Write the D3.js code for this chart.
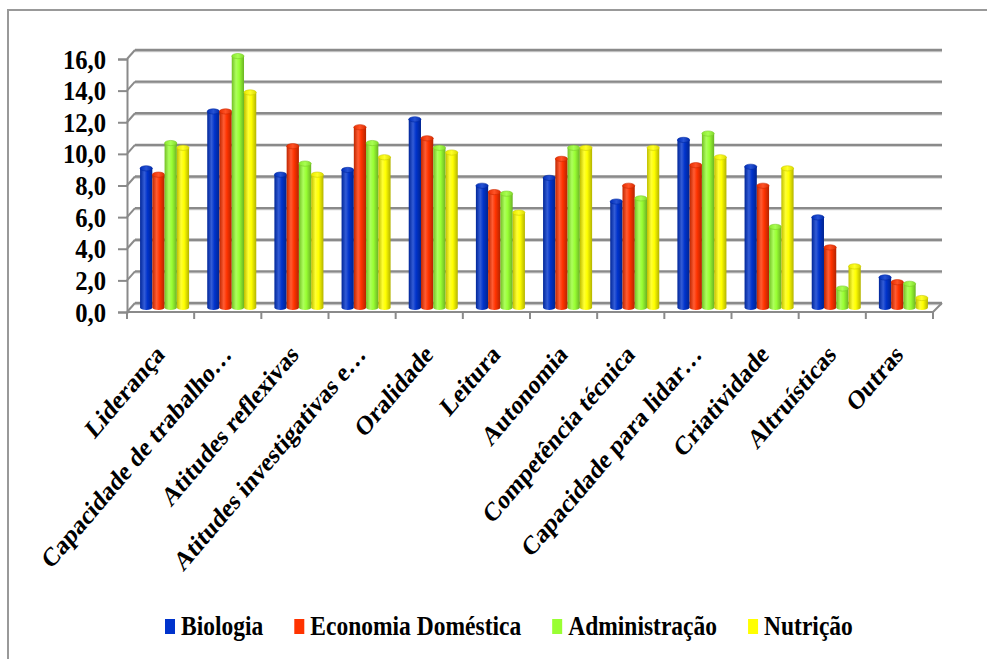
<!DOCTYPE html>
<html><head><meta charset="utf-8">
<script src="https://cdn.jsdelivr.net/npm/d3@7"></script>
<style>html,body{margin:0;padding:0;background:#fff;} svg{display:block;}</style>
</head><body>
<svg id="chart" width="987" height="659"></svg>
<script>
const categories = ["Liderança","Capacidade de trabalho…","Atitudes reflexivas","Atitudes investigativas e…","Oralidade","Leitura","Autonomia","Competência técnica","Capacidade para lidar…","Criatividade","Altruísticas","Outras"];
const seriesNames = ["Biologia","Economia Doméstica","Administração","Nutrição"];
const biologia      = [8.8,12.4,8.4,8.7,11.9,7.7,8.2,6.7,10.6,8.9,5.7,1.9];
const economia      = [8.4,12.4,10.2,11.4,10.7,7.3,9.4,7.7,9.0,7.7,3.8,1.6];
const administracao = [10.4,15.9,9.1,10.4,10.1,7.2,10.1,6.9,11.0,5.1,1.2,1.5];
const nutricao      = [10.1,13.6,8.4,9.5,9.8,6.0,10.1,10.1,9.5,8.8,2.6,0.6];
const yTicks = [0,2,4,6,8,10,12,14,16];
const colors = ["#0033CC","#FF3300","#99FF33","#FFFF00"];
const seriesValues = [biologia, economia, administracao, nutricao];

const svg = d3.select("#chart");
const FONT = "'Liberation Serif', 'Times New Roman', serif";
const SX = 0.85; // horizontal squash of the original picture's text
const dx = 8, dy = -9; // 3D depth offset

// frame
svg.append("path").attr("d","M8,659 V10 H987").attr("fill","none").attr("stroke","#999").attr("stroke-width",2);

const x = d3.scaleBand().domain(categories).range([127,933]);
const y = d3.scaleLinear().domain([0,16]).range([312,59]);
const bw = x.bandwidth();
const xs = d3.scaleBand().domain(seriesNames).range([0, bw*0.73]);

// defs gradients
const defs = svg.append("defs");
function shade(c, k){ return k>0 ? d3.interpolateRgb(c,"#fff")(k) : d3.interpolateRgb(c,"#000")(-k); }
colors.forEach((c,i)=>{
  const g = defs.append("linearGradient").attr("id","g"+i).attr("x1","0").attr("x2","1").attr("y1","0").attr("y2","0");
  g.append("stop").attr("offset","0").attr("stop-color",shade(c,-0.25));
  g.append("stop").attr("offset","0.35").attr("stop-color",shade(c,0.2));
  g.append("stop").attr("offset","0.6").attr("stop-color",c);
  g.append("stop").attr("offset","1").attr("stop-color",shade(c,-0.3));
  const gc = defs.append("linearGradient").attr("id","c"+i).attr("x1","0").attr("x2","1").attr("y1","0").attr("y2","0");
  gc.append("stop").attr("offset","0").attr("stop-color",shade(c,-0.1));
  gc.append("stop").attr("offset","0.5").attr("stop-color",shade(c,0.15));
  gc.append("stop").attr("offset","1").attr("stop-color",shade(c,-0.15));
});

const gridColor = "#8a8a8a";
// back wall gridlines
const grid = svg.append("g");
yTicks.forEach(v=>{
  grid.append("line").attr("x1",127+dx).attr("x2",942).attr("y1",y(v)+dy+1.2).attr("y2",y(v)+dy+1.2).attr("stroke","#d0d0d0").attr("stroke-width",2);
  grid.append("line").attr("x1",127+dx).attr("x2",942).attr("y1",y(v)+dy).attr("y2",y(v)+dy).attr("stroke",gridColor).attr("stroke-width",2.3);
  grid.append("line").attr("x1",127).attr("x2",127+dx).attr("y1",y(v)).attr("y2",y(v)+dy).attr("stroke",gridColor).attr("stroke-width",2);
});
// floor right edge
svg.append("line").attr("x1",933).attr("x2",933+dx+1).attr("y1",y(0)).attr("y2",y(0)+dy).attr("stroke",gridColor).attr("stroke-width",2);

// y axis
const yAxis = d3.axisLeft(y).tickValues(yTicks).tickSize(9).tickPadding(0).tickFormat(()=>"");
const ya = svg.append("g").attr("transform","translate(127,0)").call(yAxis);
ya.select(".domain").attr("stroke",gridColor).attr("stroke-width",2);
ya.selectAll(".tick line").attr("stroke",gridColor).attr("stroke-width",2);
const fmt = d3.format(".1f");
yTicks.forEach(v=>{
  svg.append("text").attr("transform",`translate(106,${y(v)}) scale(0.88,1)`)
    .attr("font-family",FONT).attr("font-weight","bold")
    .attr("text-anchor","end").attr("dy","0.34em").attr("font-size",28).text(fmt(v).replace(".",","));
});

// x axis front line + boundary ticks
svg.append("line").attr("x1",127).attr("x2",933).attr("y1",y(0)).attr("y2",y(0)).attr("stroke",gridColor).attr("stroke-width",2);
const bounds = categories.map(c=>x(c)).concat([x(categories[categories.length-1])+bw]);
bounds.forEach(b=>{
  svg.append("line").attr("x1",b).attr("x2",b).attr("y1",y(0)).attr("y2",y(0)+7).attr("stroke",gridColor).attr("stroke-width",2);
});

// bars (mid-depth plane)
const mdx = dx/2, mdy = dy/2;
const bars = svg.append("g");
categories.forEach((c,ci)=>{
  seriesNames.forEach((s,si)=>{
    const v = seriesValues[si][ci];
    const x0 = x(c) + bw*0.135 + mdx + xs(s);
    const w = xs.bandwidth();
    const yt = y(v) + mdy, yb = y(0) + mdy;
    const ry = 2.6;
    bars.append("path")
      .attr("d",`M${x0},${yt} V${yb} A${w/2},${ry} 0 0 0 ${x0+w},${yb} V${yt} Z`)
      .attr("fill",`url(#g${si})`);
    bars.append("ellipse").attr("cx",x0+w/2).attr("cy",yt).attr("rx",w/2).attr("ry",ry)
      .attr("fill",`url(#c${si})`).attr("stroke",shade(colors[si],-0.2)).attr("stroke-width",0.6);
  });
});

// category labels
categories.forEach(c=>{
  svg.append("text").attr("transform",`translate(${x(c)+bw/2+5},356) scale(${SX},1) rotate(-45)`)
    .attr("font-family",FONT).attr("font-weight","bold")
    .attr("text-anchor","end").attr("font-size",27).text(c);
});

// legend
let lx = 165;
const legend = svg.append("g");
seriesNames.forEach((s,i)=>{
  legend.append("rect").attr("x",lx).attr("y",619).attr("width",10).attr("height",15).attr("fill",colors[i]);
  const t = legend.append("text").attr("transform",`translate(${lx+16},635) scale(0.84,1)`)
    .attr("font-family",FONT).attr("font-weight","bold").attr("font-size",28).text(s);
  const tw = t.node().getComputedTextLength()*0.84;
  lx += 16 + tw + 31;
});
</script>
</body></html>
